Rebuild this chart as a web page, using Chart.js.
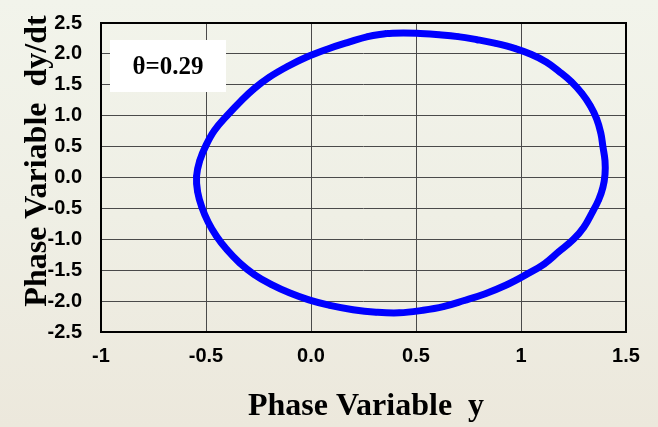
<!DOCTYPE html>
<html>
<head>
<meta charset="utf-8">
<script src="https://cdn.jsdelivr.net/npm/chart.js@4"></script>
<style>
html,body{margin:0;padding:0;}
body{width:658px;height:427px;overflow:hidden;background:linear-gradient(to bottom,#f2f4eb 0%,#efefe5 50%,#ece8dc 100%);}
canvas{display:block;}
</style>
</head>
<body>
<canvas id="c" width="658" height="427"></canvas>
<script>
// Phase portrait values (y, dy/dt), clockwise from the top
const phaseY  = [0.36,0.44,0.52,0.61,0.70,0.79,0.88,0.97,1.05,1.12,1.18,1.24,1.29,1.33,1.36,1.38,1.39,1.40,1.40,1.39,1.37,1.34,1.30,1.25,1.18,1.11,1.02,0.93,0.83,0.73,0.63,0.53,0.42,0.31,0.20,0.09,-0.01,-0.10,-0.19,-0.27,-0.34,-0.40,-0.45,-0.49,-0.52,-0.54,-0.545,-0.53,-0.50,-0.46,-0.40,-0.33,-0.27,-0.20,-0.11,-0.02,0.08,0.18,0.27,0.36];
const phaseDY = [2.33,2.34,2.33,2.31,2.28,2.23,2.17,2.09,1.99,1.87,1.72,1.55,1.36,1.16,0.95,0.72,0.50,0.27,0.05,-0.16,-0.36,-0.56,-0.80,-1.00,-1.20,-1.40,-1.58,-1.74,-1.88,-1.99,-2.09,-2.15,-2.19,-2.18,-2.14,-2.07,-1.98,-1.87,-1.73,-1.57,-1.38,-1.17,-0.95,-0.72,-0.48,-0.23,0.02,0.27,0.52,0.76,1.00,1.25,1.44,1.62,1.80,1.95,2.08,2.19,2.28,2.33];
const xTickLabels = ['-1','-0.5','0.0','0.5','1','1.5'];
const yTickLabels = ['2.5','2.0','1.5','1.0','0.5','0.0','-0.5','-1.0','-1.5','-2.0','-2.5'];
const xTitle = 'Phase Variable  y';
const yTitle = 'Phase Variable  dy/dt';
const boxLabel = 'θ=0.29';

const points = phaseY.map((v,i)=>({x:v,y:phaseDY[i]}));

const decor = {
  id:'decor',
  beforeDatasetsDraw(chart){
    const {ctx, chartArea:a} = chart;
    ctx.save();
    ctx.fillStyle = '#ffffff';
    ctx.fillRect(a.left+9, 40, 116, 52);
    ctx.fillStyle = '#000';
    ctx.font = 'bold 25px "Liberation Serif", "Times New Roman", serif';
    ctx.textAlign = 'center';
    ctx.textBaseline = 'middle';
    ctx.fillText(boxLabel, a.left+67, 68);
    ctx.restore();
  },
  afterDraw(chart){
    const {ctx, chartArea:a} = chart;
    ctx.save();
    ctx.strokeStyle = '#000';
    ctx.lineWidth = 2;
    ctx.strokeRect(a.left, a.top, a.right-a.left, a.bottom-a.top);
    ctx.fillStyle = '#000';
    ctx.font = 'bold 32px "Liberation Serif", "Times New Roman", serif';
    ctx.textAlign = 'center';
    ctx.textBaseline = 'middle';
    ctx.fillText(xTitle, 366, 407);
    ctx.translate(38, 161);
    ctx.rotate(-Math.PI/2);
    ctx.fillText(yTitle, 0, 0);
    ctx.restore();
  }
};

new Chart(document.getElementById('c'), {
  type:'scatter',
  data:{datasets:[{
    data:points,
    showLine:true,
    borderColor:'#0000ff',
    backgroundColor:'#0000ff',
    borderWidth:7,
    pointRadius:3,
    pointBorderWidth:0,
    tension:0.4,
    fill:false
  }]},
  options:{
    responsive:false,
    animation:false,
    devicePixelRatio:1,
    layout:{padding:{top:23,right:32,left:0,bottom:0}},
    plugins:{legend:{display:false},tooltip:{enabled:false}},
    scales:{
      x:{
        type:'linear',min:-1,max:1.5,
        afterBuildTicks(s){ s.ticks = xTickLabels.map((t,i)=>({value:-1+0.5*i})); },
        afterFit(s){ s.height = 95; s.paddingLeft = 0; s.paddingRight = 0; },
        grid:{color:'#4a4a4a',lineWidth:1,drawTicks:false},
        border:{display:false},
        ticks:{padding:12,color:'#000',maxRotation:0,autoSkip:false,
          font:{family:'"Liberation Sans", Arial, sans-serif',size:20,weight:'bold'},
          callback:(v,i)=>xTickLabels[i]}
      },
      y:{
        type:'linear',min:-2.5,max:2.5,
        afterBuildTicks(s){ s.ticks = yTickLabels.map((t,i)=>({value:-2.5+0.5*i})); },
        afterFit(s){ s.width = 101; s.paddingTop = 0; s.paddingBottom = 0; },
        grid:{color:'#4a4a4a',lineWidth:1,drawTicks:false},
        border:{display:false},
        ticks:{padding:19,color:'#000',autoSkip:false,
          font:{family:'"Liberation Sans", Arial, sans-serif',size:20,weight:'bold'},
          callback:(v,i)=>yTickLabels[yTickLabels.length-1-i]}
      }
    }
  },
  plugins:[decor]
});
</script>
</body>
</html>
